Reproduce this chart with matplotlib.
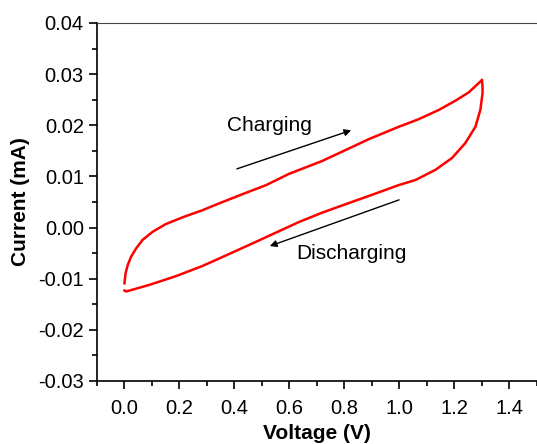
import numpy as np
import matplotlib.pyplot as plt

plt.rcParams['font.family'] = ['Liberation Sans', 'DejaVu Sans']

# CV loop: forward (charging) sweep then reverse sweep
v_fwd = [0.000, 0.004, 0.012, 0.024, 0.042, 0.066, 0.103, 0.151, 0.211, 0.284,
         0.338, 0.442, 0.515, 0.598, 0.718, 0.889, 0.997, 1.070, 1.143, 1.203,
         1.251, 1.297]
i_fwd = [-0.0109, -0.0089, -0.0073, -0.0057, -0.0041, -0.0024, -0.0008, 0.0007,
         0.0020, 0.0034, 0.0046, 0.0068, 0.0083, 0.0105, 0.0130, 0.0173, 0.0197,
         0.0212, 0.0230, 0.0248, 0.0264, 0.0287]
v_rev = [1.300, 1.302, 1.302, 1.294, 1.276, 1.239, 1.191, 1.131, 1.058, 0.997,
         0.900, 0.816, 0.718, 0.635, 0.453, 0.338, 0.284, 0.187, 0.091, 0.006,
         0.000]
i_rev = [0.0289, 0.0275, 0.0263, 0.0230, 0.0197, 0.0165, 0.0136, 0.0113, 0.0093,
         0.0083, 0.0064, 0.0048, 0.0029, 0.0011, -0.0034, -0.0062, -0.0075,
         -0.0095, -0.0112, -0.0125, -0.0123]

v = v_fwd + v_rev
i = i_fwd + i_rev

fig = plt.figure(figsize=(5.37, 4.44), dpi=100)
ax = fig.add_axes([0.1806, 0.1419, 0.8194, 0.8063])

ax.plot(v, i, color='red', lw=1.8, solid_joinstyle='round')

ax.set_xlim(-0.1, 1.5)
ax.set_ylim(-0.03, 0.04)
ax.set_xticks(np.arange(0, 1.41, 0.2))
ax.set_xticks(np.arange(-0.1, 1.51, 0.1), minor=True)
ax.set_yticks(np.arange(-0.03, 0.0401, 0.01))
ax.set_yticks(np.arange(-0.03, 0.0401, 0.005), minor=True)
ax.xaxis.set_major_formatter(plt.FormatStrFormatter('%.1f'))
ax.yaxis.set_major_formatter(plt.FormatStrFormatter('%.2f'))

ax.spines['right'].set_visible(False)
ax.spines['top'].set_color('#444444')
for s in ['left', 'bottom']:
    ax.spines[s].set_linewidth(1.2)
ax.tick_params(which='major', direction='out', length=6, width=1.2, labelsize=14.5)
ax.tick_params(axis='x', which='major', pad=7)
ax.tick_params(which='minor', direction='out', length=3.5, width=1.2)
ax.tick_params(top=False, right=False, which='both')

ax.set_xlabel('Voltage (V)', fontsize=15, fontweight='bold', labelpad=4)
ax.set_ylabel('Current (mA)', fontsize=15, fontweight='bold', labelpad=6)

ax.annotate('', xy=(0.834, 0.0192), xytext=(0.399, 0.0113),
            arrowprops=dict(arrowstyle='-|>', color='black', lw=1, mutation_scale=10))
ax.text(0.373, 0.0200, 'Charging', fontsize=15, va='center', ha='left')
ax.annotate('', xy=(0.519, -0.0038), xytext=(1.008, 0.0056),
            arrowprops=dict(arrowstyle='-|>', color='black', lw=1, mutation_scale=10))
ax.text(0.623, -0.0051, 'Discharging', fontsize=15, va='center', ha='left')

fig.savefig('out.png', dpi=100)
